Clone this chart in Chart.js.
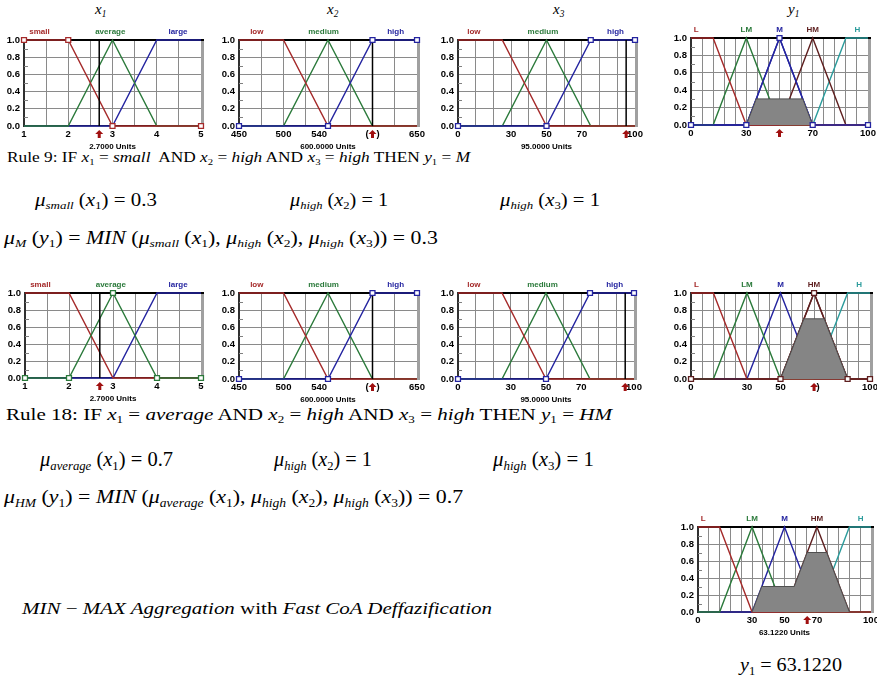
<!DOCTYPE html>
<html>
<head>
<meta charset="utf-8">
<script src="https://cdn.jsdelivr.net/npm/chart.js@4.4.1/dist/chart.umd.min.js"></script>
<style>
  body { margin: 0; background: #fff; width: 877px; height: 680px; position: relative; overflow: hidden;
         font-family: "Liberation Serif", "Times New Roman", serif; color: #000; }
  canvas { position: absolute; }
  .abs { position: absolute; white-space: nowrap; line-height: 1; transform-origin: 0 0; }
  sub { font-size: 62%; vertical-align: -0.3em; line-height: 0; }
  .units { font-family: "Liberation Sans", Arial, sans-serif; font-size: 8px; font-weight: bold; }
  .ttl { font-size: 15px; font-style: italic; }
</style>
</head>
<body>

<div class="abs ttl" style="left:95px;top:2px">x<sub>1</sub></div>
<div class="abs ttl" style="left:327px;top:2px">x<sub>2</sub></div>
<div class="abs ttl" style="left:553px;top:2px">x<sub>3</sub></div>
<div class="abs ttl" style="left:788px;top:2px">y<sub>1</sub></div>

<div class="abs" style="left:7px;top:151px;font-size:14px" data-w="463">Rule 9: IF <i>x</i><sub>1</sub> = <i>small</i>&nbsp; AND <i>x</i><sub>2</sub> = <i>high</i> AND <i>x</i><sub>3</sub> = <i>high</i> THEN <i>y</i><sub>1</sub> = <i>M</i></div>
<div class="abs" style="left:35px;top:191px;font-size:18px" data-w="122"><i>μ<sub>small</sub></i> (<i>x</i><sub>1</sub>) = 0.3</div>
<div class="abs" style="left:290px;top:191px;font-size:18px" data-w="98"><i>μ<sub>high</sub></i> (<i>x</i><sub>2</sub>) = 1</div>
<div class="abs" style="left:500px;top:191px;font-size:18px" data-w="100"><i>μ<sub>high</sub></i> (<i>x</i><sub>3</sub>) = 1</div>
<div class="abs" style="left:4px;top:229px;font-size:18px" data-w="434"><i>μ<sub>M</sub></i> (<i>y</i><sub>1</sub>) = <i>MIN</i> (<i>μ<sub>small</sub></i> (<i>x</i><sub>1</sub>), <i>μ<sub>high</sub></i> (<i>x</i><sub>2</sub>), <i>μ<sub>high</sub></i> (<i>x</i><sub>3</sub>)) = 0.3</div>

<div class="abs" style="left:6px;top:407px;font-size:16px" data-w="606">Rule 18: IF <i>x</i><sub>1</sub> = <i>average</i> AND <i>x</i><sub>2</sub> = <i>high</i> AND <i>x</i><sub>3</sub> = <i>high</i> THEN <i>y</i><sub>1</sub> = <i>HM</i></div>
<div class="abs" style="left:40px;top:449px;font-size:20px" data-w="133"><i>μ<sub>average</sub></i> (<i>x</i><sub>1</sub>) = 0.7</div>
<div class="abs" style="left:274px;top:449px;font-size:20px" data-w="98"><i>μ<sub>high</sub></i> (<i>x</i><sub>2</sub>) = 1</div>
<div class="abs" style="left:493px;top:449px;font-size:20px" data-w="101"><i>μ<sub>high</sub></i> (<i>x</i><sub>3</sub>) = 1</div>
<div class="abs" style="left:4px;top:487px;font-size:19px" data-w="459"><i>μ<sub>HM</sub></i> (<i>y</i><sub>1</sub>) = <i>MIN</i> (<i>μ<sub>average</sub></i> (<i>x</i><sub>1</sub>), <i>μ<sub>high</sub></i> (<i>x</i><sub>2</sub>), <i>μ<sub>high</sub></i> (<i>x</i><sub>3</sub>)) = 0.7</div>

<div class="abs" style="left:22px;top:600px;font-size:17px" data-w="470"><i>MIN</i> − <i>MAX Aggregation</i> with <i>Fast CoA Deffazification</i></div>
<div class="abs" style="left:740px;top:655px;font-size:19px" data-w="102"><i>y</i><sub>1</sub> = 63.1220</div>

<script>
// input variable x1
const x1Range = [1, 5];
const x1SmallX = [1, 2, 3, 5],         x1SmallY = [1, 1, 0, 0];
const x1AverageX = [1, 2, 3, 4, 5],    x1AverageY = [0, 0, 1, 0, 0];
const x1LargeX = [1, 3, 4, 5],         x1LargeY = [0, 0, 1, 1];
const x1Grid = [1.5, 2, 2.5, 3, 3.5, 4, 4.5];
const x1TickVals = [1, 2, 3, 4, 5];
const x1TickText = ['1', '2', '3', '4', '5'];
const x1Input = 2.7;

// input variable x2
const x2Range = [450, 650];
const x2LowX = [450, 500, 550, 650],         x2LowY = [1, 1, 0, 0];
const x2MediumX = [450, 500, 550, 600, 650], x2MediumY = [0, 0, 1, 0, 0];
const x2HighX = [450, 550, 600, 650],        x2HighY = [0, 0, 1, 1];
const x2Grid = [475, 500, 525, 550, 575, 600, 625];
const x2TickVals = [450, 500, 540, 600, 650];
const x2TickText = ['450', '500', '540', '(   )', '650'];
const x2Input = 600;

// input variable x3
const x3Range = [0, 100];
const x3LowX = [0, 25, 50, 100],        x3LowY = [1, 1, 0, 0];
const x3MediumX = [0, 25, 50, 75, 100], x3MediumY = [0, 0, 1, 0, 0];
const x3HighX = [0, 50, 75, 100],       x3HighY = [0, 0, 1, 1];
const x3Grid = [10, 20, 30, 40, 50, 60, 70, 80, 90];
const x3TickVals = [0, 30, 50, 70, 100];
const x3TickText = ['0', '30', '50', '70', '100'];
const x3Input = 95;

// output variable y1
const y1Range = [0, 100];
const y1LX = [0, 12.5, 31.25, 100],            y1LY = [1, 1, 0, 0];
const y1LMX = [0, 12.5, 31.25, 50, 100],       y1LMY = [0, 0, 1, 0, 0];
const y1MX = [0, 31.25, 50, 68.75, 100],       y1MY = [0, 0, 1, 0, 0];
const y1HMX = [0, 50, 68.75, 87.5, 100],       y1HMY = [0, 0, 1, 0, 0];
const y1HX = [0, 68.75, 87.5, 100],            y1HY = [0, 0, 1, 1];
const y1Grid = [6.25, 12.5, 18.75, 25, 31.25, 37.5, 43.75, 50, 56.25, 62.5, 68.75, 75, 81.25, 87.5, 93.75];
const y1TickVals9 = [0, 31.25, 68.75, 100];
const y1TickText9 = ['0', '30', '70', '100'];
const y1TickVals18 = [0, 31.25, 50, 68.75, 100];
const y1TickText18 = ['0', '30', '50', '   )', '100'];
const y1TickValsAgg = [0, 31.25, 50, 68.75, 100];
const y1TickTextAgg = ['0', '30', '50', '70', '100'];

// clipped consequents and aggregate
const rule9CutX = [31.25, 36.875, 63.125, 68.75],   rule9CutY = [0, 0.3, 0.3, 0];
const rule18CutX = [50, 63.125, 74.375, 87.5],      rule18CutY = [0, 0.7, 0.7, 0];
const aggX = [31.25, 36.875, 55.625, 63.125, 74.375, 87.5], aggY = [0, 0.3, 0.3, 0.7, 0.7, 0];
const y1Rule9 = 50, y1Rule18 = 68.75, y1Crisp = 63.122;

const yTickVals = [0, 0.2, 0.4, 0.6, 0.8, 1];

const RED = '#a52a2a', GREEN = '#2b7a3b', BLUE = '#2424a0', BROWN = '#5e1f1f', TEAL = '#2c9c9c';
const PADL = 30, PADT = 16, PADR = 14, PADB = 18;
const tickFont = { family: 'Liberation Sans, Arial, sans-serif', size: 9.5, weight: 'bold' };

function pts(xs, ys) { return xs.map((v, i) => ({ x: v, y: ys[i] })); }
function lineSet(xs, ys, color, w) {
  return { data: pts(xs, ys), borderColor: color, borderWidth: w || 1.4, pointRadius: 0, fill: false, tension: 0, clip: false };
}
function markerSet(xs, ys, color) {
  return { data: pts(xs, ys), showLine: false, pointStyle: 'rect', pointRadius: 3.5, pointBackgroundColor: '#fff',
           pointBorderColor: color, pointBorderWidth: 1.3, clip: false };
}
function cutSet(xs, ys) {
  return { data: pts(xs, ys), borderColor: '#505050', borderWidth: 1, backgroundColor: '#858585', fill: 'origin',
           pointRadius: 0, tension: 0, clip: false };
}
function inputSet(v) { return lineSet([v, v], [0, 1], '#000', 1.5); }

const fuzzyDecor = {
  id: 'fuzzyDecor',
  beforeDatasetsDraw(chart) {
    const { ctx, chartArea: a, scales: { y } } = chart;
    ctx.save();
    ctx.strokeStyle = '#808080'; ctx.lineWidth = 1;
    for (let k = 1; k < 10; k += 2) {
      const py = Math.round(y.getPixelForValue(k / 10)) + 0.5;
      ctx.beginPath(); ctx.moveTo(a.left, py); ctx.lineTo(a.left + 4, py); ctx.stroke();
    }
    ctx.strokeStyle = '#a0a0a0'; ctx.lineWidth = 3;
    ctx.beginPath(); ctx.moveTo(a.right + 1.5, a.top - 1); ctx.lineTo(a.right + 1.5, a.bottom + 1); ctx.stroke();
    ctx.strokeStyle = '#000'; ctx.lineWidth = 2;
    ctx.beginPath(); ctx.moveTo(a.left, a.top); ctx.lineTo(a.right + 3, a.top); ctx.stroke();
    ctx.restore();
  },
  afterDraw(chart, args, o) {
    const { ctx, chartArea: a, scales: { x } } = chart;
    ctx.save();
    ctx.font = 'bold 8px "Liberation Sans", Arial, sans-serif';
    ctx.textAlign = 'center'; ctx.textBaseline = 'middle';
    (o.names || []).forEach(n => {
      ctx.fillStyle = n.color;
      ctx.fillText(n.text, x.getPixelForValue(n.at), a.top - 8);
    });
    if (o.arrow != null) {
      const px = x.getPixelForValue(o.arrow), py = a.bottom + 4;
      ctx.fillStyle = '#a01010';
      ctx.beginPath();
      ctx.moveTo(px, py); ctx.lineTo(px + 4, py + 4); ctx.lineTo(px + 1.5, py + 4); ctx.lineTo(px + 1.5, py + 8);
      ctx.lineTo(px - 1.5, py + 8); ctx.lineTo(px - 1.5, py + 4); ctx.lineTo(px - 4, py + 4);
      ctx.closePath(); ctx.fill();
    }
    ctx.restore();
  }
};

function fuzzyChart(box, spec) {
  const c = document.createElement('canvas');
  const w = box.r - box.l + PADL + PADR, h = box.b - box.t + PADT + PADB;
  c.width = w; c.height = h;
  c.style.cssText = 'left:' + (box.l - PADL) + 'px;top:' + (box.t - PADT) + 'px;width:' + w + 'px;height:' + h + 'px';
  document.body.appendChild(c);
  if (spec.units) {
    const u = document.createElement('div');
    u.className = 'abs units';
    u.textContent = spec.units;
    u.style.top = (box.b + 17) + 'px';
    document.body.appendChild(u);
    u.style.left = ((box.l + box.r) / 2 - u.getBoundingClientRect().width / 2) + 'px';
  }
  const xTicks = [...new Set([spec.range[0], ...spec.grid, ...spec.tickVals, spec.range[1]])].sort((a, b) => a - b);
  const gridSet = new Set(spec.grid);
  return new Chart(c, {
    type: 'line',
    data: { datasets: spec.datasets },
    options: {
      responsive: false, animation: false, events: [],
      layout: { padding: { left: 0, top: PADT, right: PADR, bottom: 0 } },
      plugins: { legend: { display: false }, tooltip: { enabled: false },
                 fuzzyDecor: { names: spec.names, arrow: spec.arrow } },
      scales: {
        x: {
          type: 'linear', min: spec.range[0], max: spec.range[1],
          afterBuildTicks: s => { s.ticks = xTicks.map(v => ({ value: v })); },
          afterFit: s => { s.height = PADB; },
          ticks: { autoSkip: false, maxRotation: 0, padding: 3, color: '#000', font: tickFont,
                   callback: v => { const i = spec.tickVals.indexOf(v); return i < 0 ? '' : spec.tickText[i]; } },
          grid: { drawTicks: false, lineWidth: 1,
                  color: ctx => (ctx.tick && gridSet.has(ctx.tick.value)) ? '#8a8a8a' : 'rgba(0,0,0,0)' },
          border: { color: '#000', width: 1.5 }
        },
        y: {
          min: 0, max: 1,
          afterBuildTicks: s => { s.ticks = yTickVals.map(v => ({ value: v })); },
          afterFit: s => { s.width = PADL; },
          ticks: { padding: 4, color: '#000', font: tickFont, callback: v => v.toFixed(1) },
          grid: { drawTicks: false, lineWidth: 1,
                  color: ctx => (ctx.tick && ctx.tick.value > 0 && ctx.tick.value < 1) ? '#8a8a8a' : 'rgba(0,0,0,0)' },
          border: { color: '#303030', width: 2 }
        }
      }
    },
    plugins: [fuzzyDecor]
  });
}

const x1Names = [{ text: 'small', at: 1.35, color: RED }, { text: 'average', at: 2.95, color: GREEN }, { text: 'large', at: 4.48, color: BLUE }];
const x2Names = [{ text: 'low', at: 470, color: RED }, { text: 'medium', at: 545, color: GREEN }, { text: 'high', at: 626, color: BLUE }];
const x3Names = [{ text: 'low', at: 9, color: RED }, { text: 'medium', at: 48, color: GREEN }, { text: 'high', at: 89, color: BLUE }];
const y1Names = [{ text: 'L', at: 3, color: RED }, { text: 'LM', at: 31.25, color: GREEN }, { text: 'M', at: 50, color: BLUE },
                 { text: 'HM', at: 68.75, color: BROWN }, { text: 'H', at: 94, color: TEAL }];

function x2Spec(units) {
  return { range: x2Range, grid: x2Grid, tickVals: x2TickVals, tickText: x2TickText, arrow: x2Input, names: x2Names, units: units,
    datasets: [markerSet(x2HighX, x2HighY, BLUE), inputSet(x2Input), lineSet(x2HighX, x2HighY, BLUE),
               lineSet(x2LowX, x2LowY, RED), lineSet(x2MediumX, x2MediumY, GREEN)] };
}
function x3Spec(units) {
  return { range: x3Range, grid: x3Grid, tickVals: x3TickVals, tickText: x3TickText, arrow: x3Input, names: x3Names, units: units,
    datasets: [markerSet(x3HighX, x3HighY, BLUE), inputSet(x3Input), lineSet(x3HighX, x3HighY, BLUE),
               lineSet(x3LowX, x3LowY, RED), lineSet(x3MediumX, x3MediumY, GREEN)] };
}
function y1Lines() {
  return [lineSet(y1LX, y1LY, RED), lineSet(y1LMX, y1LMY, GREEN), lineSet(y1MX, y1MY, BLUE),
          lineSet(y1HMX, y1HMY, BROWN), lineSet(y1HX, y1HY, TEAL)];
}

// rule 9 row
fuzzyChart({ l: 24, t: 40, r: 201, b: 126 }, {
  range: x1Range, grid: x1Grid, tickVals: x1TickVals, tickText: x1TickText, arrow: x1Input, names: x1Names, units: '2.7000 Units',
  datasets: [markerSet(x1SmallX, x1SmallY, RED), inputSet(x1Input), lineSet(x1SmallX, x1SmallY, RED),
             lineSet(x1AverageX, x1AverageY, GREEN), lineSet(x1LargeX, x1LargeY, BLUE)]
});
fuzzyChart({ l: 239, t: 40, r: 417, b: 126 }, x2Spec('600.0000 Units'));
fuzzyChart({ l: 458, t: 40, r: 635, b: 126 }, x3Spec('95.0000 Units'));
fuzzyChart({ l: 691, t: 38, r: 868, b: 125 }, {
  range: y1Range, grid: y1Grid, tickVals: y1TickVals9, tickText: y1TickText9, arrow: y1Rule9, names: y1Names,
  datasets: [markerSet(y1MX, y1MY, BLUE), cutSet(rule9CutX, rule9CutY), lineSet(y1MX, y1MY, BLUE), ...y1Lines()]
});

// rule 18 row
fuzzyChart({ l: 25, t: 293, r: 201, b: 378 }, {
  range: x1Range, grid: x1Grid, tickVals: x1TickVals, tickText: x1TickText, arrow: x1Input, names: x1Names, units: '2.7000 Units',
  datasets: [markerSet(x1AverageX, x1AverageY, GREEN), inputSet(x1Input), lineSet(x1AverageX, x1AverageY, GREEN),
             lineSet(x1SmallX, x1SmallY, RED), lineSet(x1LargeX, x1LargeY, BLUE)]
});
fuzzyChart({ l: 239, t: 293, r: 417, b: 379 }, x2Spec('600.0000 Units'));
fuzzyChart({ l: 458, t: 293, r: 634, b: 379 }, x3Spec('95.0000 Units'));
fuzzyChart({ l: 691, t: 293, r: 870, b: 379 }, {
  range: y1Range, grid: y1Grid, tickVals: y1TickVals18, tickText: y1TickText18, arrow: y1Rule18, names: y1Names,
  datasets: [markerSet(y1HMX, y1HMY, BROWN), cutSet(rule18CutX, rule18CutY), lineSet(y1HMX, y1HMY, BROWN), ...y1Lines()]
});

// aggregated output
fuzzyChart({ l: 698, t: 527, r: 871, b: 612 }, {
  range: y1Range, grid: y1Grid, tickVals: y1TickValsAgg, tickText: y1TickTextAgg, arrow: y1Crisp, names: y1Names, units: '63.1220 Units',
  datasets: [cutSet(aggX, aggY), ...y1Lines()]
});

// stretch text lines to the widths seen in the picture
document.querySelectorAll('[data-w]').forEach(el => {
  const w = el.getBoundingClientRect().width;
  el.style.transform = 'scaleX(' + (Number(el.dataset.w) / w).toFixed(3) + ')';
});
</script>
</body>
</html>
